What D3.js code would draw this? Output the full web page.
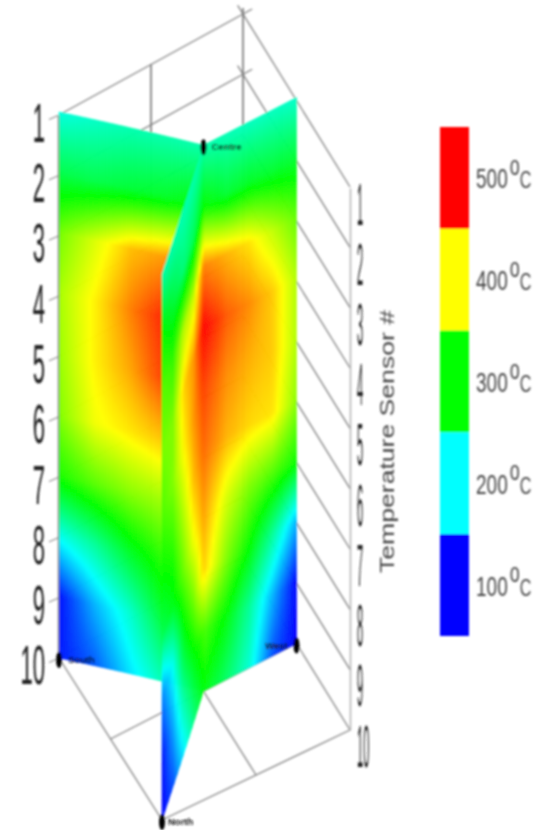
<!DOCTYPE html>
<html>
<head>
<meta charset="utf-8">
<script src="https://cdn.jsdelivr.net/npm/d3@7"></script>
<style>
  body { margin: 0; background: #fff; }
  text { font-family: "Liberation Sans", Arial, sans-serif; }
</style>
</head>
<body>
<script>
// sensor rows and the columns sampled along each wall
var sensors = [1, 2, 3, 4, 5, 6, 7, 8, 9, 10];
var columnStops = [0, 0.25, 0.5, 0.75, 1];

// temperatures, one line per sensor row
var southWall = [
  [212, 222, 230, 232, 232],
  [270, 270, 278, 285, 300],
  [345, 385, 425, 440, 450],
  [365, 405, 450, 490, 500],
  [360, 405, 435, 480, 475],
  [350, 395, 410, 425, 460],
  [310, 335, 355, 365, 440],
  [205, 240, 285, 320, 420],
  [105, 170, 220, 285, 330],
  [110, 135, 190, 235, 295]
];
var westWall = [
  [232, 228, 224, 224, 220],
  [300, 280, 285, 280, 280],
  [450, 430, 410, 375, 340],
  [500, 465, 445, 420, 370],
  [475, 445, 430, 420, 370],
  [460, 430, 415, 410, 355],
  [440, 385, 350, 330, 305],
  [420, 350, 300, 240, 170],
  [330, 295, 240, 170, 100],
  [295, 260, 215, 130, 100]
];
var northWall = [
  [232, 232, 228, 228, 228],
  [300, 265, 250, 275, 300],
  [450, 380, 370, 320, 335],
  [500, 440, 415, 350, 345],
  [475, 440, 400, 350, 330],
  [460, 425, 370, 320, 300],
  [440, 395, 340, 290, 265],
  [420, 345, 290, 205, 150],
  [330, 290, 240, 165, 105],
  [295, 250, 190, 130, 100]
];

var tempStops = [100, 200, 300, 400, 500];
var tempColors = ["#0000ff", "#00ffff", "#00ff00", "#ffff00", "#ff0000"];
var legendLabels = ["500", "400", "300", "200", "100"];

var svg = d3.select("body").append("svg").attr("width", 547).attr("height", 830);
svg.append("rect").attr("width", 547).attr("height", 830).attr("fill", "#fff");

var defs = svg.append("defs");
defs.append("filter").attr("id", "soft")
  .attr("x", 0).attr("y", 0)
  .attr("filterUnits", "userSpaceOnUse")
  .attr("width", 547).attr("height", 830)
  .append("feGaussianBlur").attr("stdDeviation", 0.8);

var root = svg.append("g").attr("filter", "url(#soft)");

var color = d3.scaleLinear().domain(tempStops).range(tempColors).clamp(true);

// floor of the box: a runs North -> South, b runs North -> East
var floorX = {n: 162, s: 59, e: 350, back: 243};
var floorY = {n: 820, s: 658, e: 730, back: 557};

function floorPoint(a, b) {
  var xn = d3.interpolateNumber(floorX.n, floorX.e)(b);
  var xs = d3.interpolateNumber(floorX.s, floorX.back)(b);
  var yn = d3.interpolateNumber(floorY.n, floorY.e)(b);
  var ys = d3.interpolateNumber(floorY.s, floorY.back)(b);
  return [xn + (xs - xn) * a, yn + (ys - yn) * a];
}

var rise = d3.scaleLinear().domain([1, 10]).range([-543, 0]);
var wallRise = d3.scaleLinear().domain([1, 10]).range([-546, 0]);

function boxPoint(a, b, row) {
  var p = floorPoint(a, b);
  return [p[0], p[1] + rise(row)];
}

var line = d3.line();

function gridLine(points, stroke, width) {
  root.append("path").attr("d", line(points)).attr("fill", "none")
    .attr("stroke", stroke).attr("stroke-width", width);
}

// back walls
sensors.forEach(function(r) {
  var over = r <= 2 ? 1.05 : 1;
  gridLine([boxPoint(1, 0, r), boxPoint(1, over, r)], "#808080", 1.3);
  gridLine([boxPoint(0, 1, r), boxPoint(over, 1, r)], "#808080", 1.3);
});
gridLine([boxPoint(1, 1, 0.9), boxPoint(1, 1, 10)], "#7a7a7a", 1.7);
gridLine([boxPoint(1, 0.5, 1), boxPoint(1, 0.5, 10)], "#7a7a7a", 1.7);

// floor
gridLine([floorPoint(1, 0), floorPoint(0, 0), floorPoint(0, 1)], "#808080", 1.3);
gridLine([floorPoint(0.5, 0), floorPoint(0.5, 1)], "#808080", 1.3);
gridLine([floorPoint(0, 0.5), floorPoint(1, 0.5)], "#808080", 1.3);

function tempAt(grid, t, row) {
  var c = Math.min(Math.max(t * (columnStops.length - 1), 0), columnStops.length - 1.001);
  var r = Math.min(row - 1, sensors.length - 1.001);
  var c0 = Math.floor(c), r0 = Math.floor(r);
  var fc = c - c0, fr = r - r0;
  var top = grid[r0][c0] + (grid[r0][c0 + 1] - grid[r0][c0]) * fc;
  var bot = grid[r0 + 1][c0] + (grid[r0 + 1][c0 + 1] - grid[r0 + 1][c0]) * fc;
  return top + (bot - top) * fr;
}

function drawWall(grid, from, to, cols) {
  var rows = 182;
  var cells = [];
  for (var i = 0; i < cols; i++) {
    for (var j = 0; j < rows; j++) {
      cells.push({i: i, j: j});
    }
  }
  function corner(t, row) {
    var p = floorPoint(from[0] + (to[0] - from[0]) * t, from[1] + (to[1] - from[1]) * t);
    return [p[0], p[1] + wallRise(row)];
  }
  root.append("g").selectAll("path").data(cells).enter().append("path")
    .attr("d", function(d) {
      var t0 = d.i / cols, t1 = (d.i + 1) / cols;
      var r0 = 1 + 9 * d.j / rows, r1 = 1 + 9 * (d.j + 1) / rows;
      return line([corner(t0, r0), corner(t1, r0), corner(t1, r1), corner(t0, r1)]) + "Z";
    })
    .each(function(d) {
      var c = color(tempAt(grid, (d.i + 0.5) / cols, 1 + 9 * (d.j + 0.5) / rows));
      d3.select(this).attr("fill", c).attr("stroke", c).attr("stroke-width", 0.6);
    });
}

drawWall(southWall, [1, 0], [0.5, 0.5], 48);
drawWall(westWall, [0.5, 0.5], [0.5, 1], 32);
drawWall(northWall, [0.5, 0.5], [0, 0], 14);

// left axis
var leftY = d3.scaleLinear().domain([1, 10]).range([115, 658]);
var leftAxis = root.append("g").attr("transform", "translate(58,0)")
  .call(d3.axisLeft(leftY).tickValues(sensors).tickSize(9).tickSizeOuter(0).tickFormat(d3.format("d")));
leftAxis.select(".domain").attr("stroke", "#808080").attr("stroke-width", 1.4);
leftAxis.selectAll(".tick line").attr("stroke", "#777").attr("y2", 4);
leftAxis.selectAll(".tick text")
  .attr("x", 0).attr("y", 0).attr("dy", 0)
  .attr("fill", "#222")
  .attr("font-size", 24)
  .attr("text-anchor", "end")
  .attr("transform", "translate(-13,26) scale(0.92,2.35)");

// right axis
var rightY = d3.scaleLinear().domain([1, 10]).range([188, 730]);
var rightAxis = root.append("g").attr("transform", "translate(350,0)")
  .call(d3.axisRight(rightY).tickValues(sensors).tickSize(0).tickPadding(0).tickFormat(d3.format("d")));
rightAxis.select(".domain").attr("stroke", "#b5b5b5").attr("stroke-width", 1.6);
rightAxis.selectAll(".tick text")
  .attr("x", 0).attr("y", 0).attr("dy", 0)
  .attr("fill", "#222")
  .attr("font-size", 24)
  .attr("text-anchor", "start")
  .attr("transform", "translate(7,36) scale(0.46,2.5)");

root.append("text")
  .attr("transform", "translate(394,573) rotate(-90)")
  .attr("font-size", 21)
  .attr("fill", "#444")
  .attr("textLength", 263)
  .attr("lengthAdjust", "spacingAndGlyphs")
  .text("Temperature Sensor #");

// sensor markers at the foot of the walls
var markerNames = ["Centre", "South", "North", "West"];
var markerFloor = [[0.5, 0.5], [1, 0], [0, 0], [0.5, 1]];
var markerRow = [1, 10, 10, 10];
var markerAnchor = ["start", "start", "start", "end"];
var markerShift = [8, 9, 6, -9];

markerNames.forEach(function(name, i) {
  var p = floorPoint(markerFloor[i][0], markerFloor[i][1]);
  var y = p[1] + wallRise(markerRow[i]) + 2;
  root.append("ellipse").attr("cx", p[0]).attr("cy", y).attr("rx", 3).attr("ry", 8).attr("fill", "#000");
  root.append("text")
    .attr("x", p[0] + markerShift[i]).attr("y", y + 3)
    .attr("text-anchor", markerAnchor[i])
    .attr("font-size", 9.5).attr("font-weight", "bold").attr("fill", "#111")
    .text(name);
});

// colour key
var legendY = d3.scaleBand().domain(legendLabels).range([127, 636]);
var legendX = 440, legendWidth = 29;

root.append("g").selectAll("rect").data(legendLabels).enter().append("rect")
  .attr("x", legendX)
  .attr("y", function(d) { return legendY(d); })
  .attr("width", legendWidth)
  .attr("height", legendY.bandwidth())
  .attr("fill", function(d) { return color(+d); });

var keyText = root.append("g").selectAll("text").data(legendLabels).enter().append("text")
  .attr("transform", function(d) {
    return "translate(476," + (legendY(d) + legendY.bandwidth() / 2 + 10.5) + ") scale(1,1.5)";
  })
  .attr("font-size", 19)
  .attr("fill", "#444");
keyText.append("tspan").text(function(d) { return d; });
keyText.append("tspan").attr("dy", -9).attr("dx", 2).attr("font-size", 18).text("o");
keyText.append("tspan").attr("dy", 9).attr("font-size", 16).text("C");
</script>
</body>
</html>
